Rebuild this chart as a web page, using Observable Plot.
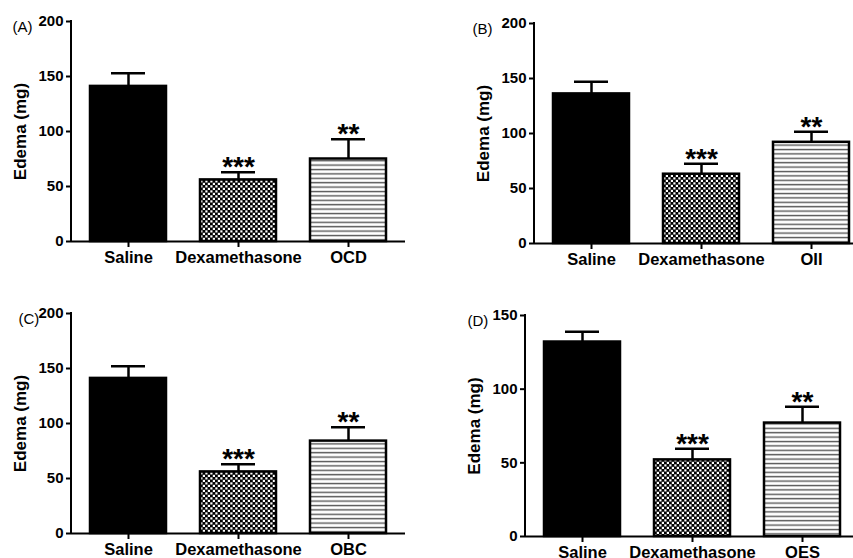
<!DOCTYPE html>
<html>
<head>
<meta charset="utf-8">
<script src="https://cdn.jsdelivr.net/npm/d3@7"></script>
<script src="https://cdn.jsdelivr.net/npm/@observablehq/plot@0.6"></script>
<style>
  body { margin: 0; background: #fff; }
  #figure { position: relative; width: 853px; height: 558px; overflow: hidden; background: #fff; }
  #figure .panel { position: absolute; }
</style>
</head>
<body>
<!-- fill patterns shared by all panels -->
<svg width="0" height="0" style="position:absolute">
  <defs>
    <pattern id="checker" width="5" height="5" patternUnits="userSpaceOnUse">
      <rect width="5" height="5" fill="#000"/>
      <rect x="0.3" y="0.3" width="2.2" height="2.2" fill="#fff"/>
      <rect x="2.8" y="2.8" width="2.2" height="2.2" fill="#fff"/>
    </pattern>
    <pattern id="stripes" width="6" height="4.4" patternUnits="userSpaceOnUse">
      <rect width="6" height="4.4" fill="#fff"/>
      <rect x="0" y="1.6" width="6" height="1.4" fill="#555"/>
    </pattern>
  </defs>
</svg>
<div id="figure"></div>
<script>
// Groups shared by every panel, plus the extract tested in each panel
const groups = ["Saline", "Dexamethasone"];
const extracts = ["OCD", "OII", "OBC", "OES"];
const panelLetters = ["(A)", "(B)", "(C)", "(D)"];

// Edema weight (mg), mean and SEM, order: Saline, Dexamethasone, extract
const edemaA = [141, 56, 75];
const semA = [12, 7, 18];
const edemaB = [136, 63, 92];
const semB = [11, 9.5, 9.5];
const edemaC = [141, 56, 84];
const semC = [11, 7, 12.5];
const edemaD = [132, 52, 77];
const semD = [7, 7.5, 11];

// Significance versus saline
const significance = ["", "***", "**"];

// Y axis extent and tick step per panel
const yMaxes = [200, 200, 200, 150];
const yStep = 50;
const yLabel = "Edema (mg)";

const means = [edemaA, edemaB, edemaC, edemaD];
const sems = [semA, semB, semC, semD];

// Bar fills by group position
const fills = ["#000", "url(#checker)", "url(#stripes)"];

// Panel placement within the figure
const layout = [
  {left: 0, top: 0, letterDx: -59, marginBottom: 39},
  {left: 463, top: 2, letterDx: -62, marginBottom: 39},
  {left: 0, top: 292, letterDx: -53, marginBottom: 39},
  {left: 454, top: 294, letterDx: -58, marginBottom: 38}
];

const font = "'Liberation Sans', Arial, Helvetica, sans-serif";
const figure = document.getElementById("figure");

extracts.forEach((extract, p) => {
  const cats = [...groups, extract];
  const rows = cats.map((group, i) => ({
    group,
    edema: means[p][i],
    sem: sems[p][i],
    sig: significance[i],
    idx: i
  }));
  const yMax = yMaxes[p];
  const L = layout[p];

  const chart = Plot.plot({
    width: 426,
    height: 280,
    marginLeft: 71,
    marginRight: 21,
    marginTop: 21,
    marginBottom: L.marginBottom,
    style: {fontFamily: font, fontWeight: "bold", fontSize: "15px", color: "#000", background: "transparent", overflow: "visible"},
    x: {domain: cats, paddingInner: 0.31, paddingOuter: 0.17},
    y: {domain: [0, yMax]},
    color: {type: "identity"},
    marks: [
      Plot.barY(rows, {x: "group", y: "edema", fill: (d) => fills[d.idx], stroke: "#000", strokeWidth: 2.5}),
      // upper SEM whisker and cap
      Plot.ruleX(rows, {x: "group", y1: "edema", y2: (d) => d.edema + d.sem, stroke: "#000", strokeWidth: 2.5}),
      Plot.tickY(rows, {x: "group", y: (d) => d.edema + d.sem, stroke: "#000", strokeWidth: 2.5, insetLeft: 21, insetRight: 21}),
      Plot.text(rows, {x: "group", y: (d) => d.edema + d.sem, text: "sig", fontSize: 28, fontWeight: "bold", lineAnchor: "bottom", dy: 4}),
      // axes
      Plot.ruleY([0], {stroke: "#000", strokeWidth: 2}),
      (index, scales, values, dims) => {
        const line = document.createElementNS("http://www.w3.org/2000/svg", "line");
        line.setAttribute("x1", dims.marginLeft);
        line.setAttribute("x2", dims.marginLeft);
        line.setAttribute("y1", scales.y(0) + 1);
        line.setAttribute("y2", scales.y(yMax) - 1);
        line.setAttribute("stroke", "#000");
        line.setAttribute("stroke-width", 2);
        return line;
      },
      Plot.axisY({ticks: d3.range(0, yMax + 1, yStep), tickSize: 5, tickPadding: 3, strokeWidth: 2, label: null, fontSize: 15, fontWeight: "bold"}),
      Plot.axisY({ticks: [], tickSize: 0, label: yLabel, labelAnchor: "center", labelOffset: 58, labelArrow: "none", fontSize: 17, fontWeight: "bold"}),
      Plot.axisX({tickSize: 6, tickPadding: 4, strokeWidth: 2, label: null, fontSize: 16.5, fontWeight: "bold"}),
      Plot.text([panelLetters[p]], {frameAnchor: "top-left", dx: L.letterDx, textAnchor: "start", fontWeight: "normal", fontSize: 15, text: (d) => d})
    ]
  });
  chart.classList.add("panel");
  chart.style.left = L.left + "px";
  chart.style.top = L.top + "px";
  figure.appendChild(chart);
});
</script>
</body>
</html>
